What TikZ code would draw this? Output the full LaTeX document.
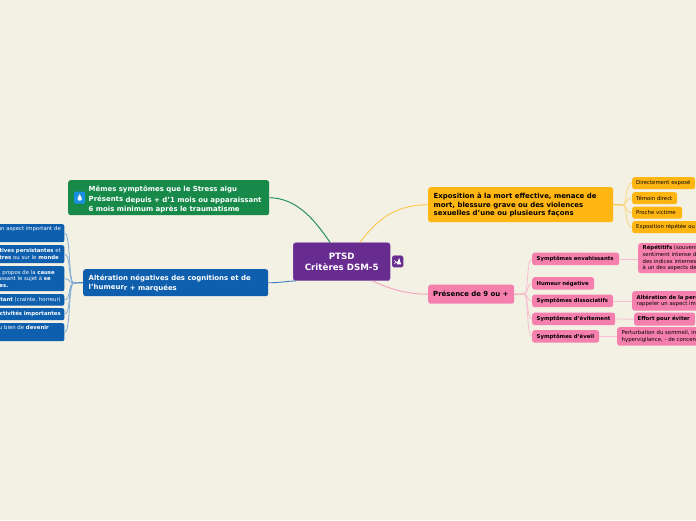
\documentclass[tikz,border=0pt]{standalone}
\usepackage{fontspec}
\setmainfont{DejaVu Sans}
\usetikzlibrary{calc}
\definecolor{bgc}{HTML}{F3F0E4}
\definecolor{purp}{HTML}{682C91}
\definecolor{grn}{HTML}{178A4A}
\definecolor{blu}{HTML}{0E5FAE}
\definecolor{yel}{HTML}{FFB612}
\definecolor{pnk}{HTML}{F580AD}
\definecolor{lyel}{HTML}{FBD77F}
\definecolor{lpnk}{HTML}{F8BDD3}
\definecolor{lblu}{HTML}{7FADD6}
\definecolor{iconb}{HTML}{1B8FE2}
\newcommand{\fs}[1]{\fontsize{#1}{#1}\selectfont}
\newcommand{\fsm}{\fontsize{5.35}{6.8}\selectfont}
\newcommand{\hb}[1]{\textbf{#1}}
\begin{document}
\begin{tikzpicture}[x=1pt,y=-1pt,
  box/.style={rounded corners=2.5pt,draw=none,anchor=north west,inner xsep=0pt,inner ysep=0pt,align=left},
  ptxt/.style={box,fill=pnk,text=black,inner xsep=4.5pt},
  ytxt/.style={box,fill=yel,text=black,inner xsep=4pt},
  bsmall/.style={rounded corners=2pt,fill=blu,text=white,font=\fsm,anchor=north east,inner xsep=0pt,inner ysep=0pt,align=right,text width=170pt},
  maintxt/.style={anchor=north west,inner sep=0pt,font=\fs{6.95}\bfseries,align=left},
  yline/.style={draw=lyel,line width=0.8pt},
  pline/.style={draw=lpnk,line width=0.8pt},
  bline/.style={draw=lblu,line width=0.8pt}
]
\useasboundingbox (0,0) rectangle (696,520);
\clip (0,0) rectangle (696,520);
\fill[bgc] (0,0) rectangle (696,520);

% central
\node[box,fill=purp,text=white,font=\fs{8.7}\bfseries,align=center,text width=97pt,minimum height=38pt,draw=purp!75!white,line width=.4pt] (c) at (293,242.5) {PTSD\\[2pt]Critères DSM-5};
\node[rounded corners=1.5pt,fill=purp,draw=purp!80!white,line width=.3pt,minimum width=11pt,minimum height=11.5pt,inner sep=0pt,anchor=north west] (cb) at (392,255.5) {};
\draw[white,line width=.6pt] ($(cb.center)+(-3.5,-1)$) -- ($(cb.center)+(-.8,1)$) -- ($(cb.center)+(-3.5,2)$);
\fill[white] ($(cb.center)+(1.5,-3.5)$) -- ($(cb.center)+(3,1.5)$) -- ($(cb.center)+(3.5,3)$) -- ($(cb.center)+(-.5,3)$) -- ($(cb.center)+(-.5,1)$) -- cycle;

% main
\node[box,fill=grn,minimum width=201pt,minimum height=35pt] (g) at (68,180) {};
\node[rounded corners=1.2pt,fill=iconb,minimum width=11pt,minimum height=12pt,inner sep=0pt,anchor=north west] (gi) at (74,191.5) {};
\fill[white] ($(gi.center)+(0,-3.5)$) .. controls ($(gi.center)+(.6,-1.5)$) and ($(gi.center)+(2.4,-.2)$) .. ($(gi.center)+(2.2,1.2)$) .. controls ($(gi.center)+(2,3.6)$) and ($(gi.center)+(-2,3.6)$) .. ($(gi.center)+(-2.2,1.2)$) .. controls ($(gi.center)+(-2.4,-.2)$) and ($(gi.center)+(-.6,-1.5)$) .. cycle;
\node[maintxt,text=white] (gt) at (88.5,186) {Mêmes symptômes que le Stress aigu\\[1.4pt]\raisebox{.8pt}{Présents}\kern2.5pt depuis + d'1 mois ou apparaissant\\[1.4pt]6 mois minimum après le traumatisme};

\node[box,fill=blu,minimum width=185pt,minimum height=27pt] (b) at (83,269) {};
\node[maintxt,text=white] (bt) at (88.5,275) {Altération négatives des cognitions et de\\[1.8pt]l'humeur\raisebox{-.8pt}{r + marquées}};

\node[box,fill=yel,minimum width=185pt,minimum height=35pt] (y) at (428,187) {};
\node[maintxt,text=black] (yt) at (433.5,193) {Exposition à la mort effective, menace de\\[1.4pt]mort, blessure grave ou des violences\\[1.4pt]sexuelles d'une ou plusieurs façons};

\node[box,fill=pnk,text width=81pt,inner xsep=2.5pt,minimum height=19pt,font=\fs{6.95}\bfseries] (p) at (428,284.5) {\hspace*{2.5pt}Présence de 9 ou +};

% yellow children
\foreach \n/\yy/\w/\t in {y1/177/55/Directement exposé,y2/192/37/Témoin direct,y3/206.5/42/Proche victime,y4/221/82/Exposition répétée ou}{
  \node[ytxt,font=\fsm,text width=\w pt,minimum height=12pt] (\n) at (632,\yy) {\t};
}
% pink children
\foreach \n/\yy/\w/\t in {p1/252.5/78/Symptômes envahissants,p2/277/53/Humeur négative,p3/294.5/72/Symptômes dissociatifs,p4/312.5/74/Symptômes d'évitement,p5/330/58/Symptômes d'éveil}{
  \node[ptxt,font=\fsm\bfseries,text width=\w pt,minimum height=12.5pt] (\n) at (532,\yy) {\t};
}
\node[ptxt,font=\fsm,text width=100pt,minimum height=30pt] (q1) at (638,243) {\hb{Répétitifs} (souvenirs\\sentiment intense de\\des indices internes\\à un des aspects de};
\node[ptxt,font=\fsm,text width=110pt,minimum height=19.5pt] (q3) at (632,291) {\hb{Altération de la perception}\\rappeler un aspect important};
\node[ptxt,font=\fsm\bfseries,inner xsep=3.5pt,text width=54pt,minimum height=13pt] (q4) at (634,312.5) {\mbox{Effort pour éviter}};
\node[ptxt,font=\fsm,text width=120pt,minimum height=18.5pt] (q5) at (617,327) {Perturbation du sommeil, irritabilité\\hypervigilance, - de concentration};

% blue children
\node[bsmall,minimum height=18pt] (k1) at (64.5,224) {Oubli d'un aspect important de\kern3.5pt\\ \strut};
\node[bsmall,minimum height=18pt] (k2) at (64.5,245) {\hb{Idées négatives persistantes} et\kern3.5pt\\sur les \hb{autres} ou sur le \hb{monde}\kern5.5pt};
\node[bsmall,minimum height=25pt] (k3) at (64.5,266) {Idées à propos de la \hb{cause}\kern9.5pt\\et poussant le sujet à \hb{se}\kern13.5pt\\\hb{blâmer lui-mêmes.}\kern56pt};
\node[bsmall,minimum height=11.5pt] (k4) at (64.5,294) {\hb{État négatif persistant} (crainte, horreur)\kern3.5pt};
\node[bsmall,font=\fsm\bfseries,minimum height=12pt] (k5) at (64.5,308) {Baisse d'intérêt pour activités importantes\kern3.5pt};
\node[bsmall,minimum height=18pt] (k6) at (64.5,323) {Incapacité à ressentir du bien de \hb{devenir}\kern15.5pt\\ \strut};

% connectors
\draw[draw=grn,line width=.9pt] (c.121) .. controls (316,222) and (298,198) .. (g.east);
\draw[draw=blu!80!white,line width=.9pt] (c.203) .. controls (288,281) and (278,283) .. (b.east);
\draw[draw=yel!75!bgc,line width=.9pt] (c.47) .. controls (376,222) and (392,205) .. (y.west);
\draw[draw=pnk!70!bgc,line width=.9pt] (c.-32) .. controls (388,288) and (404,294) .. (p.west);

\coordinate (yj) at (623,205);
\coordinate (pj) at (524,294);
\coordinate (bj) at (74,283);
\draw[draw=yel!70!bgc,line width=1.2pt] (y.east) -- (yj);
\draw[draw=pnk!70!bgc,line width=1.2pt] (p.east) -- (pj);
\draw[draw=blu!75!bgc,line width=1.2pt] (b.west) -- (bj);
\foreach \n in {y1,y2,y3,y4}{ \draw[yline] (yj) .. controls (627,205) and (625,0|-\n.west) .. (\n.west); }
\foreach \n in {p1,p2,p3,p4,p5}{ \draw[pline] (pj) .. controls (529,294) and (526,0|-\n.west) .. (\n.west); }
\foreach \n in {k1,k2,k3,k4,k5,k6}{ \draw[bline] (bj) .. controls (68,283) and (71,0|-\n.east) .. (\n.east); }
\draw[pline] (p1.east) -- (q1.west |- p1.east);
\draw[pline] (p3.east) -- (q3.west |- p3.east);
\draw[pline] (p4.east) -- (q4.west);
\draw[pline] (p5.east) -- (q5.west |- p5.east);
\end{tikzpicture}
\end{document}
